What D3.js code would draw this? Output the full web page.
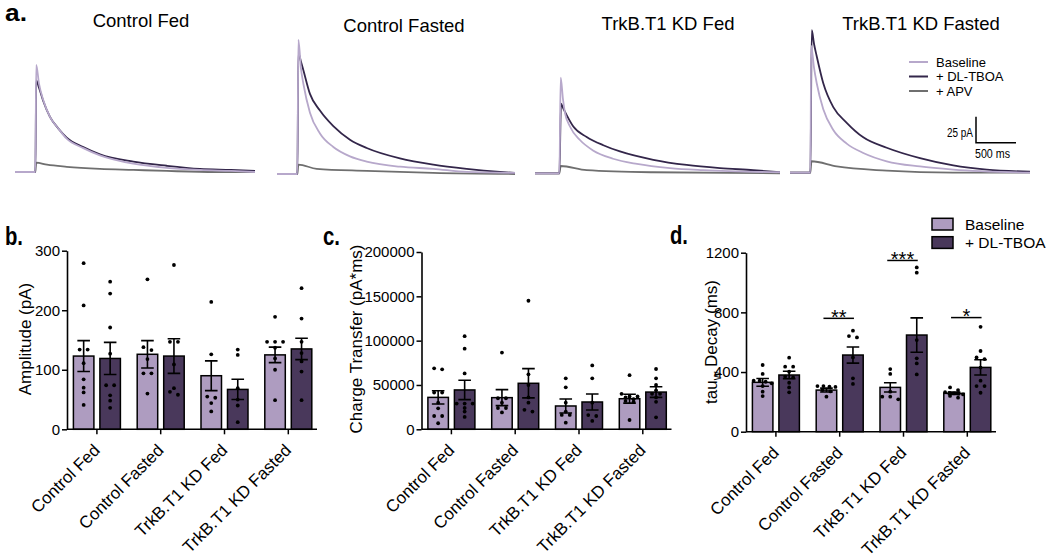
<!DOCTYPE html>
<html><head><meta charset="utf-8">
<script src="https://cdn.jsdelivr.net/npm/d3@7"></script>
<style>
body{margin:0;background:#fff;}
svg{display:block;font-family:"Liberation Sans",Arial,Helvetica,sans-serif;}
</style></head><body>
<svg id="chart" width="1050" height="558"></svg>
<script>
// ---------------- DATA ----------------
const groups = ["Control Fed", "Control Fasted", "TrkB.T1 KD Fed", "TrkB.T1 KD Fasted"];
const series = ["Baseline", "+ DL-TBOA"];
const traceSeries = ["Baseline", "+ DL-TBOA", "+ APV"];

// Panel a: representative traces, [time (ms), current (pA)]
const fedBaseTrace   = [[0,0],[255,0],[265,103],[300,85],[354,69],[437,53],[540,42],[646,32],[854,23],[1062,16],[1479,8],[1896,4],[2312,2],[2700,1],[3000,0]];
const fedTboaTrace   = [[0,0],[255,0],[265,88],[300,81],[354,68],[437,53],[540,42],[646,33],[854,24],[1062,17],[1479,10],[1896,6],[2312,3],[2700,2],[3000,1]];
const fedApvTrace    = [[0,0],[255,0],[265,9],[400,7],[646,5],[1062,3],[1479,2],[1896,1],[2500,0],[3000,0]];
const fastBaseTrace  = [[0,0],[255,0],[267,129],[300,101],[329,87],[412,59],[537,39],[704,26],[912,17],[1121,12],[1537,7],[1954,5],[2371,2],[2975,1]];
const fastTboaTrace  = [[0,0],[255,0],[267,116],[300,108],[329,100],[412,77],[537,61],[704,46],[912,33],[1121,25],[1537,15],[1954,9],[2371,5],[2787,2],[2975,1]];
const fastApvTrace   = [[0,0],[255,0],[267,9],[496,5],[1121,3],[1950,1],[2975,0]];
const kdFedBaseTrace = [[-50,0],[255,0],[271,92],[300,71],[325,58],[387,45],[512,32],[675,22],[925,14],[1225,9],[1637,5],[2050,3],[3012,1]];
const kdFedTboaTrace = [[-50,0],[255,0],[275,67],[300,63],[346,56],[429,45],[596,35],[804,27],[1012,21],[1429,13],[1846,8],[2262,5],[2679,3],[3012,1]];
const kdFedApvTrace  = [[-50,0],[255,0],[271,7],[596,3],[1425,1],[3012,0]];
const kdFastBaseTrace= [[0,0],[255,0],[265,122],[300,101],[334,86],[416,61],[541,41],[709,28],[916,19],[1209,11],[1625,6],[2041,3],[3000,0]];
const kdFastTboaTrace= [[0,0],[255,0],[272,137],[300,124],[334,112],[416,86],[541,63],[709,48],[916,34],[1209,24],[1625,14],[2041,7],[2459,3],[3000,1]];
const kdFastApvTrace = [[0,0],[255,0],[268,11],[584,6],[1209,2],[2037,0],[3000,0]];
const scaleBarPA = 25, scaleBarMS = 500;

// Panel b: Amplitude (pA)
const ampBaseMean = [123, 126, 90, 125];
const ampBaseSem  = [26, 23, 25, 13];
const ampTboaMean = [119, 123, 67, 135];
const ampTboaSem  = [27, 29, 17, 18];
const ampBasePts = [[279,208,134,134,111,84,70,62,41],[252,138,133,118,94,94,60],[214,126,55,53,44,30],[189,147,147,147,137,119,100,49]];
const ampTboaPts = [[248,228,171,127,74,74,57,48,36],[276,147,147,109,69,63,58],[134,125,69,50,40,12],[237,186,147,128,114,97,49]];
const ampTicks = [0,100,200,300];

// Panel c: Charge Transfer (pA*ms)
const chgBaseMean = [36000, 35700, 26300, 34500];
const chgBaseSem  = [7500, 9000, 7900, 5000];
const chgTboaMean = [44400, 51900, 30800, 42000];
const chgTboaSem  = [10900, 16500, 9000, 6000];
const chgBasePts = [[68800,67700,41400,41400,30000,23700,15000,15000,6800],[86500,35000,35000,30000,24000,24000,19000],[57500,47400,30000,20000,16200,16200,7500],[61000,40000,37000,37000,36000,34000,32000,31000,10500]];
const chgTboaPts = [[105000,91000,63000,29000,29000,29000,24000,20000,14000],[145000,62000,50000,36000,30000,22000,20000],[72000,57500,30000,16000,15000,9400],[68000,57500,50000,44000,40000,40000,36000,31000,13500]];
const chgTicks = [0,50000,100000,150000,200000];

// Panel d: tau_w Decay (ms)
const tauBaseMean = [331, 279, 297, 257];
const tauBaseSem  = [26, 13, 31, 8];
const tauTboaMean = [380, 514, 648, 431];
const tauTboaSem  = [25, 54, 115, 51];
const tauBasePts = [[447,387,342,342,335,324,306,268,239],[306,306,302,300,279,270,235],[420,387,268,235,235,217],[297,279,265,260,257,255,250,240,228]];
const tauTboaPts = [[496,436,436,402,369,364,328,297,264],[677,641,632,498,358,320],[1101,1066,614,492,458,384],[703,541,498,487,430,342,306,306,261]];
const tauTicks = [0,400,800,1200];
const sigGroups = ["Control Fasted", "TrkB.T1 KD Fed", "TrkB.T1 KD Fasted"];
const sigLabels = ["**", "***", "*"];
const sigLevels = [760, 1148, 765];

// ---------------- STYLE ----------------
const lightFill = "#ae9cc0", darkFill = "#49385b";
const traceColors = ["#b7a8cb", "#33264a", "#6f6f6f"];
const svg = d3.select("#chart");

// ---------------- PANEL A ----------------
const traceSets = [
  [fedBaseTrace, fedTboaTrace, fedApvTrace],
  [fastBaseTrace, fastTboaTrace, fastApvTrace],
  [kdFedBaseTrace, kdFedTboaTrace, kdFedApvTrace],
  [kdFastBaseTrace, kdFastTboaTrace, kdFastApvTrace]
];
const traceX0 = [15, 277, 539, 790];
const traceBase = [172, 174, 173.3, 172.7];
const titleX = [141, 404, 668, 921];
const titleY = [27, 32, 30, 30];
const pxPerMs = 240/3000, pxPerPA = 26/25;

traceSets.forEach((set, i) => {
  const xs = d3.scaleLinear().domain([0, 3000]).range([traceX0[i], traceX0[i] + 3000*pxPerMs]);
  const ys = d3.scaleLinear().domain([0, 25]).range([traceBase[i], traceBase[i] - 25*pxPerPA]);
  const line = d3.line().x(d => xs(d[0])).y(d => ys(d[1])).curve(d3.curveMonotoneX);
  [2, 1, 0].forEach(k => {
    svg.append("path").attr("d", line(set[k])).attr("fill", "none")
      .attr("stroke", traceColors[k]).attr("stroke-width", 1.8).attr("stroke-linejoin", "round");
  });
  svg.append("text").attr("x", titleX[i]).attr("y", titleY[i]).attr("text-anchor", "middle")
    .attr("font-size", "18.5px").attr("fill", "#000").text(groups[i]);
});

// trace legend
traceSeries.forEach((s, k) => {
  const ly = 62 + k * 14.5;
  svg.append("line").attr("x1", 909).attr("x2", 928).attr("y1", ly).attr("y2", ly)
    .attr("stroke", traceColors[k]).attr("stroke-width", 2);
  svg.append("text").attr("x", 936).attr("y", ly + 4.5).attr("font-size", "13px").text(s);
});

// scale bar
{
  const sx = 976, sy = 142.7;
  svg.append("path").attr("d", `M${sx},${sy - scaleBarPA*pxPerPA}V${sy}H${sx + scaleBarMS*pxPerMs}`)
    .attr("fill", "none").attr("stroke", "#000").attr("stroke-width", 1.5);
  svg.append("text").attr("x", sx - 3).attr("y", 137).attr("text-anchor", "end")
    .attr("font-size", "12.5px").attr("textLength", 26).attr("lengthAdjust", "spacingAndGlyphs").text(scaleBarPA + " pA");
  svg.append("text").attr("x", sx - 1).attr("y", 158).attr("font-size", "12.5px")
    .attr("textLength", 35).attr("lengthAdjust", "spacingAndGlyphs").text(scaleBarMS + " ms");
}

// panel letters
[["a.", 5, 21, 22, 23], ["b.", 5, 245, 18, 25], ["c.", 323, 245, 17, 25], ["d.", 670, 244, 18, 25]].forEach(([t, x, y, w, fs]) => {
  svg.append("text").attr("x", x).attr("y", y).attr("font-size", fs + "px").attr("font-weight", "bold")
    .attr("textLength", w).attr("lengthAdjust", "spacingAndGlyphs").text(t);
});

// ---------------- BAR PANELS ----------------
function swarm(vals, y, maxHalf) {
  const items = vals.map((v, i) => ({v, py: y(v), i})).sort((a, b) => a.py - b.py);
  const out = new Array(vals.length);
  let k = 0;
  while (k < items.length) {
    let j = k;
    while (j + 1 < items.length && items[j + 1].py - items[k].py < 3.2) j++;
    const n = j - k + 1;
    const s = n > 1 ? Math.min(8, 2 * maxHalf / (n - 1)) : 0;
    for (let m = k; m <= j; m++) out[items[m].i] = {v: items[m].v, dx: (m - k - (n - 1) / 2) * s};
    k = j + 1;
  }
  return out;
}

function barPanel(cfg) {
  const g = svg.append("g");
  const y = d3.scaleLinear().domain([0, cfg.max]).range([cfg.y0, cfg.y1]);
  const x0 = d3.scaleBand().domain(groups).range([cfg.ax - 2, cfg.ax - 2 + 255.2]);
  const x1 = d3.scaleBand().domain(series).range([0, x0.bandwidth()]).paddingInner(0.2264).paddingOuter(0.317);
  const bw = x1.bandwidth();
  const means = [cfg.baseMean, cfg.tboaMean], sems = [cfg.baseSem, cfg.tboaSem], pts = [cfg.basePts, cfg.tboaPts];
  const fills = [lightFill, darkFill];

  groups.forEach((grp, i) => {
    series.forEach((s, k) => {
      const bx = x0(grp) + x1(s), m = means[k][i], e = sems[k][i], cx = bx + bw / 2;
      g.append("rect").attr("x", bx).attr("y", y(m)).attr("width", bw).attr("height", y(0) - y(m))
        .attr("fill", fills[k]).attr("stroke", "#000").attr("stroke-width", 1.5);
      swarm(pts[k][i], y, 9).forEach(p => {
        g.append("circle").attr("cx", cx + p.dx).attr("cy", y(p.v)).attr("r", 1.9).attr("fill", "#000");
      });
      g.append("path").attr("d",
        `M${cx},${y(m - e)}V${y(m + e)}M${cx - 6.3},${y(m + e)}H${cx + 6.3}M${cx - 6.3},${y(m - e)}H${cx + 6.3}`)
        .attr("stroke", "#000").attr("stroke-width", 1.6).attr("fill", "none");
    });
  });

  // y axis
  const ya = g.append("g").attr("transform", `translate(${cfg.ax},0)`)
    .call(d3.axisLeft(y).tickValues(cfg.ticks).tickSize(5).tickPadding(2).tickSizeOuter(0).tickFormat(d3.format("d")));
  ya.select(".domain").attr("stroke-width", 1.6);
  ya.selectAll(".tick line").attr("stroke-width", 1.5);
  ya.selectAll(".tick text").attr("font-size", "15px").attr("fill", "#000");
  ya.attr("font-family", null);

  // x axis
  const xa = g.append("g").attr("transform", `translate(0,${cfg.y0})`)
    .call(d3.axisBottom(x0).tickSize(5).tickSizeOuter(0));
  xa.attr("font-family", null);
  xa.select(".domain").remove();
  xa.selectAll(".tick line").attr("stroke-width", 1.5);
  xa.selectAll(".tick text").attr("font-size", "17px").attr("fill", "#000")
    .attr("x", 4).attr("y", 22).attr("dy", 0).attr("text-anchor", "end")
    .attr("transform", "rotate(-45,4,22)");
  g.append("line").attr("x1", cfg.ax).attr("x2", cfg.ax + 250).attr("y1", cfg.y0).attr("y2", cfg.y0)
    .attr("stroke", "#000").attr("stroke-width", 1.6);

  // y label
  const lbl = g.append("text").attr("transform", `translate(${cfg.lx},${cfg.ly}) rotate(-90)`)
    .attr("text-anchor", "middle").attr("font-size", "17px");
  cfg.label(lbl);
  return {g, y, x0, x1};
}

barPanel({ax: 67, y0: 429.3, y1: 250.7, max: 300, ticks: ampTicks,
  baseMean: ampBaseMean, baseSem: ampBaseSem, tboaMean: ampTboaMean, tboaSem: ampTboaSem,
  basePts: ampBasePts, tboaPts: ampTboaPts, lx: 30.5, ly: 339,
  label: t => t.text("Amplitude (pA)")});

barPanel({ax: 421.5, y0: 429.3, y1: 252, max: 200000, ticks: chgTicks,
  baseMean: chgBaseMean, baseSem: chgBaseSem, tboaMean: chgTboaMean, tboaSem: chgTboaSem,
  basePts: chgBasePts, tboaPts: chgTboaPts, lx: 362, ly: 339,
  label: t => t.text("Charge Transfer (pA*ms)")});

const pd = barPanel({ax: 746, y0: 431.7, y1: 252.7, max: 1200, ticks: tauTicks,
  baseMean: tauBaseMean, baseSem: tauBaseSem, tboaMean: tauTboaMean, tboaSem: tauTboaSem,
  basePts: tauBasePts, tboaPts: tauTboaPts, lx: 717, ly: 342,
  label: t => {
    t.append("tspan").text("tau");
    t.append("tspan").attr("font-size", "12px").attr("dy", 4).text("w");
    t.append("tspan").attr("dy", -4).text(" Decay (ms)");
  }});

// significance
sigGroups.forEach((grp, i) => {
  const bc = pd.x0(grp) + pd.x1(series[0]) + pd.x1.bandwidth() / 2;
  const tc = pd.x0(grp) + pd.x1(series[1]) + pd.x1.bandwidth() / 2;
  const ly = pd.y(sigLevels[i]);
  pd.g.append("line").attr("x1", bc - 3).attr("x2", tc + 1).attr("y1", ly).attr("y2", ly)
    .attr("stroke", "#000").attr("stroke-width", 1.5);
  pd.g.append("text").attr("x", (bc + tc) / 2 - 1).attr("y", ly + 5.5).attr("text-anchor", "middle")
    .attr("font-size", "20px").text(sigLabels[i]);
});

// bar legend
series.forEach((s, k) => {
  const ly = 218.3 + k * 18.4;
  svg.append("rect").attr("x", 932).attr("y", ly).attr("width", 21).attr("height", 11.7)
    .attr("fill", [lightFill, darkFill][k]).attr("stroke", "#000").attr("stroke-width", 1.5);
  svg.append("text").attr("x", 965).attr("y", ly + 11.3).attr("font-size", "15.5px").text(s);
});
</script></body></html>
